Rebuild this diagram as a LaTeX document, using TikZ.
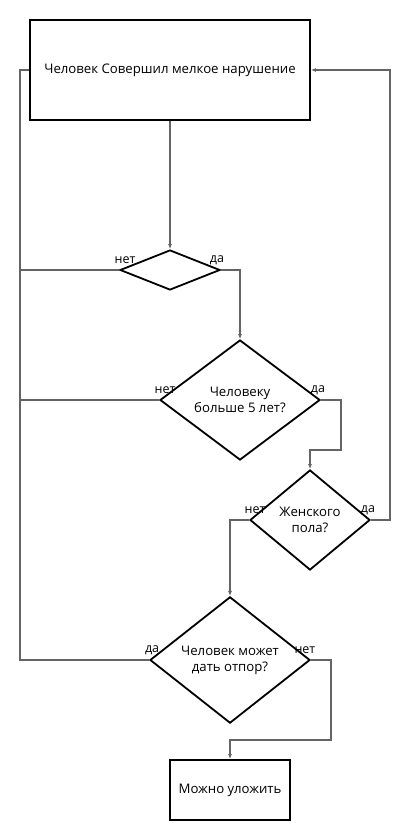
\documentclass[tikz,border=0pt]{standalone}
\usepackage{fontspec}
\setmainfont{Open Sans}
\usetikzlibrary{arrows.meta,positioning,shapes.geometric}
\definecolor{LINE-GREY}{RGB}{100,100,100}

\tikzset{
  block/.style={draw=black, line width=1.8pt, rectangle, inner sep=0pt, align=center},
  check/.style={draw=black, line width=1.8pt, diamond, inner sep=0pt, align=center},
  wire/.style={draw=LINE-GREY, line width=1.2pt},
  flow/.style={wire, -{Latex[length=5pt,width=4pt]}},
  lbl/.style={inner sep=0pt, font=\fontsize{12.5}{14}\selectfont}
}

\begin{document}
\begin{tikzpicture}[x=1pt, y=-1pt, font=\fontsize{13.2}{16}\selectfont]
  \useasboundingbox (0,0) rectangle (410,840);

  % boxes and checks
  \node[block, minimum width=280pt, minimum height=100pt] (start) at (170,70) {Человек Совершил мелкое нарушение};
  \node[check, minimum width=100pt, minimum height=40pt] (q1) at (170,270) {};
  \node[check, minimum width=160pt, minimum height=120pt] (q2) at (240,400) {Человеку\\больше 5 лет?};
  \node[check, minimum width=120pt, minimum height=100pt] (q3) at (310,520) {Женского\\пола?};
  \node[check, minimum width=160pt, minimum height=120pt] (q4) at (230,660) {Человек может\\дать отпор?};
  \node[block, minimum width=120pt, minimum height=60pt] (finish) at (230,790) {Можно уложить};

  % yes / no labels
  \node[lbl, above=6pt of q1.west, xshift=6pt] (q1no) {нет};
  \node[lbl, above=5pt of q1.east, xshift=-4pt] (q1yes) {да};
  \node[lbl, above=6pt of q2.west, xshift=6pt] (q2no) {нет};
  \node[lbl, above=5pt of q2.east, xshift=-3pt] (q2yes) {да};
  \node[lbl, above=6pt of q3.west, xshift=6pt] (q3no) {нет};
  \node[lbl, above=5pt of q3.east, xshift=-3pt] (q3yes) {да};
  \node[lbl, above=5pt of q4.west, xshift=3pt] (q4yes) {да};
  \node[lbl, above=6pt of q4.east, xshift=-6pt] (q4no) {нет};

  % bend points
  \coordinate (leftTop) at (20,70);
  \coordinate (leftBot) at (20,660);
  \coordinate (rightTop) at (390,70);
  \coordinate (rightBot) at (390,520);

  % connectors
  \draw[flow] (start.south) -- (q1.north);
  \draw[flow] (q1.east) -| (q2.north);
  \draw[flow] (q2.east) -- ++(20,0) -- ++(0,50) -| (q3.north);
  \draw[flow] (q3.west) -| (q4.north);
  \draw[flow] (q4.east) -- ++(20,0) -- ++(0,80) -| (finish.north);
  \draw[flow] (q3.east) -- (rightBot) -- (rightTop) -- (start.east);
  \draw[wire] (start.west) -- (leftTop) -- (leftBot) -- (q4.west);
  \draw[wire] (q1.west) -- (q1.west -| leftTop);
  \draw[wire] (q2.west) -- (q2.west -| leftTop);
\end{tikzpicture}
\end{document}
